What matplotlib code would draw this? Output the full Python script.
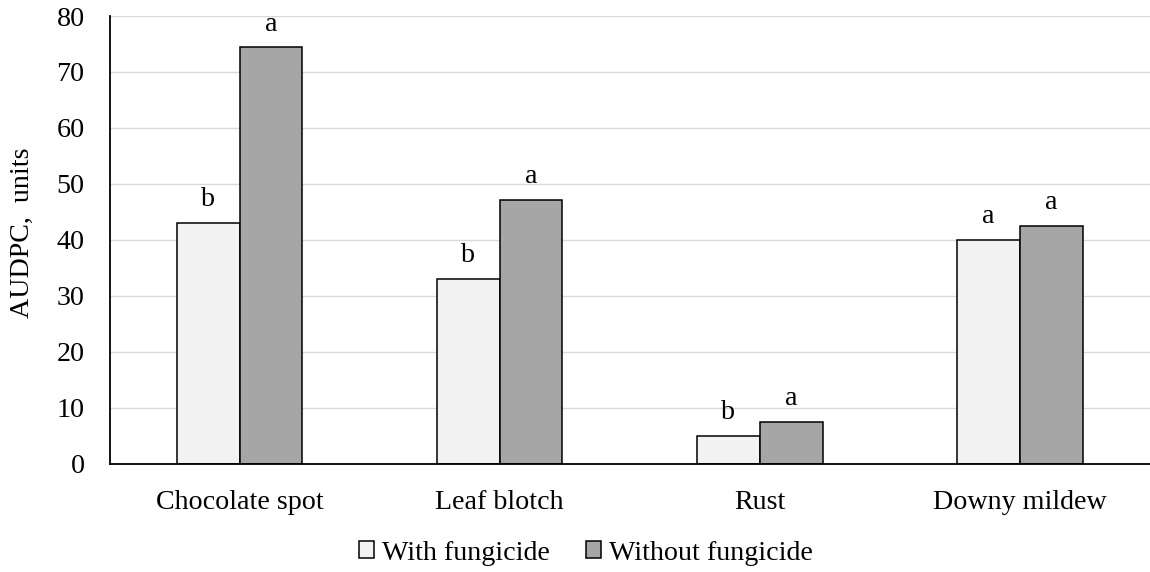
import matplotlib
matplotlib.use("Agg")
import matplotlib.pyplot as plt
import numpy as np

categories = ["Chocolate spot", "Leaf blotch", "Rust", "Downy mildew"]
with_fungicide = [43.1, 33.0, 5.0, 40.0]
without_fungicide = [74.4, 47.1, 7.5, 42.5]
letters_with = ["b", "b", "b", "a"]
letters_without = ["a", "a", "a", "a"]
series_names = ["With fungicide", "Without fungicide"]
yticks = [0, 10, 20, 30, 40, 50, 60, 70, 80]

plt.rcParams['font.family'] = ['Liberation Serif', 'DejaVu Serif']
FS = 20.2

fig = plt.figure(figsize=(11.5, 5.72), dpi=100)
ax = fig.add_axes([109.5 / 1150, (572 - 463.7) / 572, (1150 - 109.5) / 1150, (463.7 - 16) / 572])

x = np.arange(len(categories))
w = 0.241
b1 = ax.bar(x - w / 2, with_fungicide, w, color="#F2F2F2", edgecolor="black", linewidth=1.1,
            label=series_names[0], zorder=3)
b2 = ax.bar(x + w / 2, without_fungicide, w, color="#A6A6A6", edgecolor="black", linewidth=1.1,
            label=series_names[1], zorder=3)

for xi, v, l in zip(x - w / 2, with_fungicide, letters_with):
    ax.annotate(l, (xi, v), xytext=(0, 12), textcoords="offset points", ha="center",
                va="baseline", fontsize=FS)
for xi, v, l in zip(x + w / 2, without_fungicide, letters_without):
    ax.annotate(l, (xi, v), xytext=(0, 12), textcoords="offset points", ha="center",
                va="baseline", fontsize=FS)

ax.set_xlim(-0.5, len(categories) - 0.5)
ax.set_ylim(0, 80)
ax.set_yticks(yticks)
ax.set_yticklabels([str(t) for t in yticks], fontsize=FS)
ax.set_xticks(x)
ax.set_xticklabels(categories, fontsize=FS)
ax.tick_params(axis="y", length=0, pad=18)
ax.tick_params(axis="x", length=0, pad=19)

ax.grid(axis="y", color="#D9D9D9", linewidth=1.0, zorder=0)
ax.set_axisbelow(True)
for s in ["top", "right"]:
    ax.spines[s].set_visible(False)
ax.spines["left"].set_linewidth(1.3)
ax.spines["bottom"].set_linewidth(1.3)
ax.spines["left"].set_zorder(4)
ax.spines["bottom"].set_zorder(4)

fig.text(22 / 1150, 1 - 233 / 572, "AUDPC,  units", rotation=90, ha="center", va="center",
         fontsize=FS)

fig.legend(handles=[b1, b2], labels=series_names, loc="center", bbox_to_anchor=(586 / 1150, 1 - 553 / 572),
           ncol=2, frameon=False, fontsize=FS, handlelength=0.53, handleheight=0.53,
           handletextpad=0.28, columnspacing=1.3, borderpad=0)

fig.savefig("out.png", dpi=100)
